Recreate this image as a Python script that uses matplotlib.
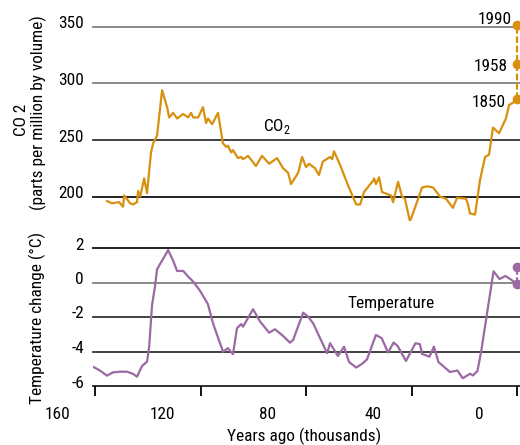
import matplotlib
matplotlib.use("Agg")
import matplotlib.pyplot as plt
import matplotlib.transforms as mtransforms

plt.rcParams['font.family'] = ['Roboto Condensed', 'Archivo Narrow', 'DejaVu Sans']
plt.rcParams['mathtext.fontset'] = 'custom'
plt.rcParams['mathtext.rm'] = 'Roboto Condensed'

# ---------------- data ----------------
co2_age = [155.5, 153.6, 150.9, 149.4, 149.0, 146.7, 145.6, 144.1, 143.7, 142.9,
           141.4, 140.3, 138.8, 138.0, 136.5, 134.6, 132.7, 131.9, 130.4, 128.9,
           126.6, 124.7, 123.6, 122.8, 120.9, 119.1, 117.9, 117.2, 115.6, 113.4,
           111.5, 110.3, 109.6, 108.4, 107.7, 105.8, 104.6, 103.9, 102.0, 99.0,
           96.7, 94.0, 91.0, 88.7, 86.8, 85.7, 83.0, 81.5, 80.0, 78.9,
           76.6, 75.1, 73.6, 70.9, 70.1, 69.4, 67.1, 64.1, 61.0, 59.5,
           58.0, 54.6, 54.2, 53.5, 52.3, 51.2, 47.8, 47.0, 45.1, 43.6,
           42.5, 40.6, 38.7, 36.0, 34.1, 31.8, 29.2, 26.9, 24.3, 22.7,
           19.3, 18.6, 17.8, 15.9, 14.0, 12.1, 10.6, 9.1, 6.8, 4.2,
           3.0, 1.5, 0.0]
co2_ppm = [196, 194, 195, 191, 201, 194, 193, 195, 205, 200,
           216, 203, 239, 247, 254, 294, 279, 270, 274, 269,
           273, 270, 274, 270, 270, 279, 265, 269, 264, 274,
           247, 244, 245, 239, 241, 234, 235, 233, 236, 227,
           236, 229, 234, 225, 221, 211, 221, 235, 226, 229,
           225, 219, 231, 235, 233, 240, 228, 210, 193, 193,
           204, 214, 216, 211, 217, 204, 201, 195, 213, 200,
           198, 178, 190, 208, 209, 208, 200, 198, 190, 199,
           198, 193, 185, 184, 215, 235, 237, 261, 256, 269,
           281, 283, 286]

temp_age = [160.8, 158.1, 155.5, 153.2, 150.5, 147.9, 145.6, 144.1, 142.2, 140.3,
            139.5, 138.4, 137.3, 136.5, 132.3, 130.4, 128.9, 126.6, 124.7, 122.8,
            120.2, 117.2, 115.3, 111.5, 109.6, 107.7, 106.2, 104.6, 103.9, 100.1,
            97.4, 94.0, 91.8, 88.7, 86.1, 84.9, 81.1, 79.2, 77.3, 72.0,
            70.9, 67.9, 65.6, 63.7, 61.0, 58.8, 56.9, 53.5, 51.3, 48.9,
            46.8, 45.3, 42.1, 38.5, 36.8, 36.0, 33.2, 31.5, 29.8, 25.4,
            22.6, 20.6, 17.8, 16.7, 15.0, 13.6, 11.4, 8.9, 6.6, 4.4,
            1.9, 0.0]
temp_c = [-4.88, -5.11, -5.40, -5.21, -5.17, -5.17, -5.30, -5.46, -4.84, -4.59,
          -3.72, -1.30, -0.24, 0.77, 1.88, 1.26, 0.67, 0.67, 0.34, 0.05,
          -0.48, -1.26, -2.36, -4.01, -3.81, -4.16, -2.65, -2.41, -2.56, -1.55,
          -2.27, -2.91, -2.71, -3.10, -3.49, -3.33, -1.75, -1.98, -2.37, -4.10,
          -3.52, -4.26, -3.72, -4.61, -4.93, -4.72, -4.46, -3.04, -3.23, -4.06,
          -3.48, -3.67, -4.55, -3.52, -3.58, -4.14, -4.30, -3.72, -4.61, -5.19,
          -5.10, -5.55, -5.29, -5.39, -5.13, -4.01, -1.83, 0.65, 0.20, 0.38,
          0.13, -0.09]

hist_years = ['1850', '1958', '1990']
hist_age = [0.0, 0.0, 0.0]
hist_co2 = [286, 317, 352]
hist_temp_age = [0.0, 0.0]
hist_temp = [-0.1, 0.88]

x_ticks = [160, 120, 80, 40, 0]
x_ticklabels = ['160', '120', '80', '40', '0']
co2_ticks = [200, 250, 300, 350]
co2_ticklabels = ['200', '250', '300', '350']
temp_ticks = [-6, -4, -2, 0, 2]
temp_ticklabels = ['-6', '-4', '-2', '0', '2']

# ---------------- style ----------------
W, H = 520, 445
ORANGE = '#D8900F'
PURPLE = '#9B69A3'
FS = 12.4

fig = plt.figure(figsize=(W / 100, H / 100), dpi=100)

def fx(px):
    return px / W

def fy(py):
    return 1 - py / H

ax1 = fig.add_axes([fx(93), fy(221.4), fx(427), (221.4 - 10) / H])
ax2 = fig.add_axes([fx(93), fy(386), fx(427), (386 - 230.75) / H])

for ax in (ax1, ax2):
    ax.set_xlim(160.8, -1.14)
    for s in ax.spines.values():
        s.set_visible(False)
    ax.set_yticks([])
    ax.patch.set_alpha(0)

ax1.set_ylim(178, 365)
ax2.set_ylim(-6, 3)

co2_grid_colors = ['#111111', '#333333', '#808080', '#808080']
temp_grid_colors = ['#222222', '#333333', '#333333', '#808080', '#111111']
for v, c in zip(co2_ticks, co2_grid_colors):
    ax1.axhline(v, color=c, lw=1.3, zorder=1, clip_on=False)
for v, c in zip(temp_ticks, temp_grid_colors):
    ax2.axhline(v, color=c, lw=1.3, zorder=1, clip_on=False)

# y tick labels
def px_off(dx, dy):
    return mtransforms.ScaledTranslation(dx / 100, dy / 100, fig.dpi_scale_trans)

for ax, ticks, labels in ((ax1, co2_ticks, co2_ticklabels), (ax2, temp_ticks, temp_ticklabels)):
    tr = mtransforms.blended_transform_factory(ax.transAxes, ax.transData) + px_off(-9, -1.5)
    for v, lab in zip(ticks, labels):
        ax.text(0, v, lab, transform=tr, ha='right', va='baseline', fontsize=FS, clip_on=False)

# x ticks
ax1.set_xticks([])
ax2.set_xticks(x_ticks)
ax2.set_xticklabels([])
ax2.tick_params(axis='x', direction='out', length=7.3, width=1.3, color='black')
trx = mtransforms.blended_transform_factory(ax2.transData, ax2.transAxes) + px_off(-38, -33)
for v, lab in zip(x_ticks, x_ticklabels):
    ax2.text(v, 0, lab, transform=trx, ha='center', va='baseline', fontsize=FS, clip_on=False)

# curves
ax1.plot(co2_age, co2_ppm, color=ORANGE, lw=1.6, zorder=3)
ax1.plot(hist_age, hist_co2, color=ORANGE, lw=1.6, ls=(0, (3, 1.2)), zorder=3, clip_on=False)
ax1.plot(hist_age, hist_co2, 'o', color=ORANGE, ms=6, zorder=4, clip_on=False)

ax2.plot(temp_age, temp_c, color=PURPLE, lw=1.6, zorder=3)
ax2.plot(hist_temp_age, hist_temp, color=PURPLE, lw=1.6, ls=(0, (3, 1.2)), zorder=3, clip_on=False)
ax2.plot(hist_temp_age, hist_temp, 'o', color=PURPLE, ms=6, zorder=4, clip_on=False)

# year labels
year_offsets = [(-11, -7.7), (-9, -6.7), (-4.7, 1)]
for lab, a, v, (dx, dy) in zip(hist_years, hist_age, hist_co2, year_offsets):
    ax1.annotate(lab, (a, v), xytext=(dx * 0.72, dy * 0.72), textcoords='offset points',
                 ha='right', va='baseline', fontsize=FS, annotation_clip=False)

# in-plot labels
fig.text(fx(263), fy(131), r'CO$_\mathrm{2}$', ha='left', va='baseline', fontsize=FS)
fig.text(fx(347), fy(308), 'Temperature', ha='left', va='baseline', fontsize=FS)

# axis labels
fig.text(fx(21), fy(120), 'CO 2', rotation=90, ha='center', va='center', fontsize=FS)
fig.text(fx(38), fy(113), '(parts per million by volume)', rotation=90, ha='center', va='center', fontsize=FS)
fig.text(fx(37), fy(318), 'Temperature change (°C)', rotation=90, ha='center', va='center', fontsize=FS)
fig.text(fx(304), fy(441), 'Years ago (thousands)', ha='center', va='baseline', fontsize=FS)

fig.savefig('out.png', dpi=100)
